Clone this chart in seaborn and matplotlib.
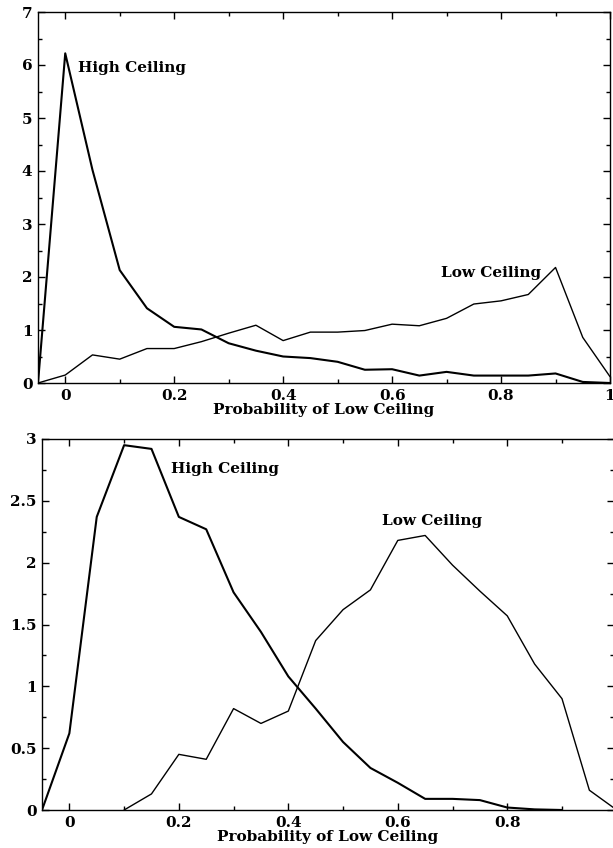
import numpy as np
import pandas as pd
import matplotlib
matplotlib.use("Agg")
import matplotlib.pyplot as plt
import seaborn as sns
from matplotlib.ticker import MultipleLocator, FuncFormatter

# ---- data ----
prob = [-0.05, 0.0, 0.05, 0.1, 0.15, 0.2, 0.25, 0.3, 0.35, 0.4, 0.45,
        0.5, 0.55, 0.6, 0.65, 0.7, 0.75, 0.8, 0.85, 0.9, 0.95, 1.0]

top_high = [0, 6.22, 4.02, 2.13, 1.41, 1.06, 1.01, 0.75, 0.61, 0.50, 0.47,
            0.40, 0.25, 0.26, 0.14, 0.21, 0.14, 0.14, 0.14, 0.18, 0.02, 0.0]
top_low = [0, 0.15, 0.53, 0.45, 0.65, 0.65, 0.78, 0.94, 1.09, 0.80, 0.96,
           0.96, 0.99, 1.11, 1.08, 1.22, 1.49, 1.55, 1.67, 2.18, 0.86, 0.12]

bot_high = [0, 0.62, 2.37, 2.95, 2.92, 2.37, 2.27, 1.76, 1.44, 1.08, 0.82,
            0.55, 0.34, 0.22, 0.09, 0.09, 0.08, 0.02, 0.005, 0.0, np.nan, np.nan]
bot_low = [np.nan, np.nan, np.nan, 0, 0.13, 0.45, 0.41, 0.82, 0.70, 0.80, 1.37,
           1.62, 1.78, 2.18, 2.22, 1.98, 1.77, 1.57, 1.18, 0.90, 0.16, 0.0]

series_names = ["High Ceiling", "Low Ceiling"]
xlabel = "Probability of Low Ceiling"

sns.set_style("ticks")
plt.rcParams['font.family'] = ['DejaVu Serif', 'Liberation Serif']
plt.rcParams['font.weight'] = 'bold'
for k in ['text.color', 'axes.labelcolor', 'xtick.color', 'ytick.color']:
    plt.rcParams[k] = 'black'

fig = plt.figure(figsize=(6.13, 8.48), dpi=100)
W, H = 613.0, 848.0
ax1 = fig.add_axes([38 / W, (H - 383) / H, (610 - 38) / W, (383 - 12) / H])
ax2 = fig.add_axes([42 / W, (H - 810) / H, (614 - 42) / W, (810 - 439) / H])

fs = 11
fmt = FuncFormatter(lambda v, p: "%g" % round(v, 3))

def draw(ax, high, low, ymax, ymajor, yminor, xmax):
    df = pd.DataFrame({"p": prob, "high": high, "low": low})
    sns.lineplot(data=df, x="p", y="high", ax=ax, color="black", lw=1.5,
                 estimator=None, sort=False)
    sns.lineplot(data=df, x="p", y="low", ax=ax, color="black", lw=1.0,
                 estimator=None, sort=False)
    ax.set_xlim(-0.05, xmax)
    ax.set_ylim(0, ymax)
    ax.xaxis.set_major_locator(MultipleLocator(0.2))
    ax.xaxis.set_minor_locator(MultipleLocator(0.1))
    ax.yaxis.set_major_locator(MultipleLocator(ymajor))
    ax.yaxis.set_minor_locator(MultipleLocator(yminor))
    ax.xaxis.set_major_formatter(fmt)
    ax.yaxis.set_major_formatter(fmt)
    ax.tick_params(which="both", direction="in", top=True, right=True,
                   color="black", width=1.0, labelcolor="black")
    ax.tick_params(which="major", length=5, labelsize=fs, pad=4)
    ax.tick_params(which="minor", length=3)
    for lab in ax.get_xticklabels() + ax.get_yticklabels():
        lab.set_fontweight("bold")
    for s in ax.spines.values():
        s.set_color("black")
        s.set_linewidth(1.0)
    ax.set_xlabel(xlabel, fontsize=fs, fontweight="bold", labelpad=0.5)
    ax.set_ylabel("")

draw(ax1, top_high, top_low, 7, 1, 0.5, 1.0)
draw(ax2, bot_high, bot_low, 3, 0.5, 0.25, 0.995)

ax1.text(0.024, 5.94, series_names[0], fontsize=fs, fontweight="bold", ha="left", va="center")
ax1.text(0.689, 2.08, series_names[1], fontsize=fs, fontweight="bold", ha="left", va="center")
ax2.text(0.185, 2.76, series_names[0], fontsize=fs, fontweight="bold", ha="left", va="center")
ax2.text(0.571, 2.34, series_names[1], fontsize=fs, fontweight="bold", ha="left", va="center")

fig.savefig("out.png", dpi=100)
